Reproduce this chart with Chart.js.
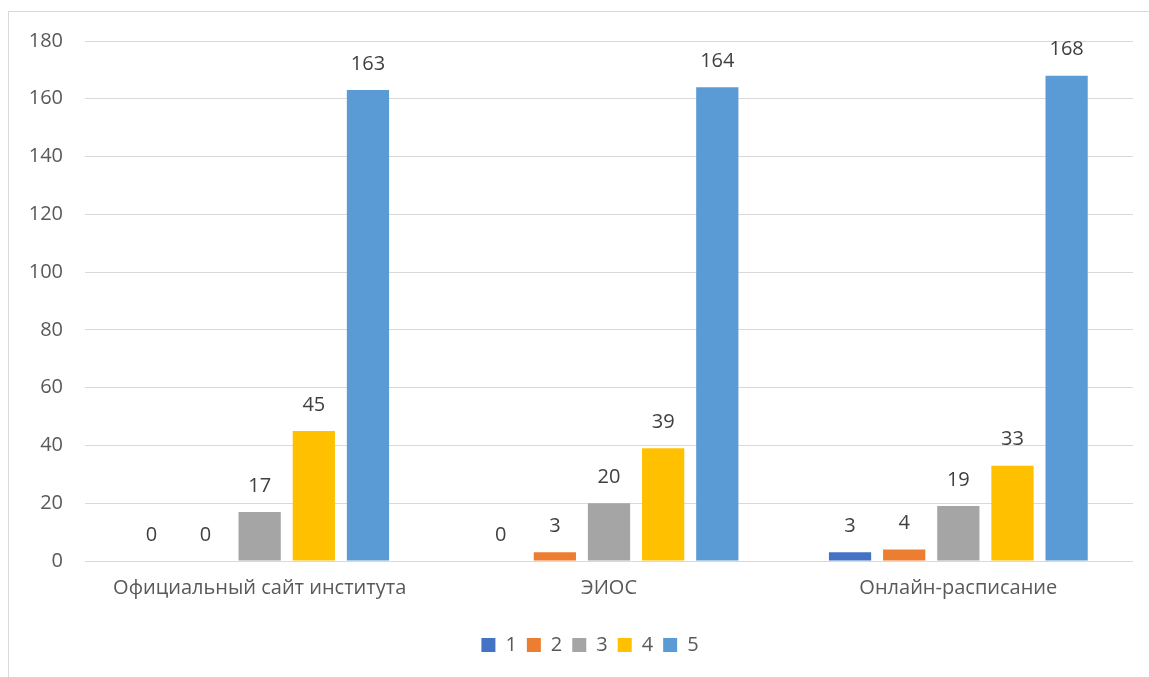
<!DOCTYPE html>
<html><head><meta charset="utf-8">
<script src="https://cdn.jsdelivr.net/npm/chart.js@4.4.0/dist/chart.umd.min.js"></script>
<style>
html,body{margin:0;padding:0;background:#fff;overflow:hidden;}
#frame{position:absolute;left:8px;top:11px;width:1160px;height:700px;border-left:1px solid #d9d9d9;border-top:1px solid #d9d9d9;}
#wrap{position:absolute;left:0;top:0;width:1140px;height:665px;}
</style></head>
<body>
<div id="frame"><div id="wrap"><canvas id="c"></canvas></div></div>
<script>
const categories = ["Официальный сайт института", "ЭИОС", "Онлайн-расписание"];
const seriesNames = ["1", "2", "3", "4", "5"];
const s1 = [0, 0, 3];
const s2 = [0, 3, 4];
const s3 = [17, 20, 19];
const s4 = [45, 39, 33];
const s5 = [163, 164, 168];
const colors = ["#4472C4", "#ED7D31", "#A5A5A5", "#FFC000", "#5B9BD5"];
const yMax = 180, yStep = 20;

const FONT = "'Open Sans', 'Liberation Sans', sans-serif";
const FS = 20;

const labelPlugin = {
  id: 'valueLabels',
  afterDatasetsDraw(chart) {
    const ctx = chart.ctx;
    ctx.save();
    ctx.font = FS + "px " + FONT;
    ctx.fillStyle = "#404040";
    ctx.textAlign = "center";
    ctx.textBaseline = "middle";
    chart.data.datasets.forEach((ds, i) => {
      const meta = chart.getDatasetMeta(i);
      meta.data.forEach((el, j) => {
        ctx.fillText(String(ds.data[j]), el.x, el.y - 26);
      });
    });
    ctx.restore();
  }
};

const legendShift = {
  id: 'legendShift',
  afterLayout(chart) {
    const lg = chart.legend;
    if (lg) { lg.left += 19; lg.right += 19; }
  }
};

const allSeries = [s1, s2, s3, s4, s5];
new Chart(document.getElementById('c'), {
  type: 'bar',
  data: {
    labels: categories,
    datasets: allSeries.map((d, i) => ({
      label: seriesNames[i],
      data: d,
      backgroundColor: colors[i],
      borderWidth: 0,
      categoryPercentage: 0.775,
      barPercentage: 0.78
    }))
  },
  options: {
    responsive: true,
    maintainAspectRatio: false,
    animation: false,
    layout: { padding: { top: 29, right: 16, left: 0, bottom: 12 } },
    plugins: {
      tooltip: { enabled: false },
      legend: {
        position: 'bottom',
        labels: {
          boxWidth: 14, boxHeight: 14, padding: 10,
          color: "#595959",
          font: { family: FONT, size: FS }
        }
      }
    },
    scales: {
      x: {
        grid: { display: false, drawTicks: false },
        border: { display: false },
        ticks: { color: "#595959", font: { family: FONT, size: FS }, padding: 15, maxRotation: 0 },
        afterFit(s) { s.height = 64; s.paddingLeft = 0; s.paddingRight = 0; }
      },
      y: {
        min: 0, max: yMax,
        grid: { color: "#d9d9d9", lineWidth: 1, drawTicks: false },
        border: { display: false },
        ticks: { stepSize: yStep, color: "#595959", font: { family: FONT, size: FS }, padding: 22 },
        afterFit(s) { s.width = 76; s.paddingTop = 0; s.paddingBottom = 0; }
      }
    }
  },
  plugins: [labelPlugin, legendShift]
});
</script>
</body></html>
